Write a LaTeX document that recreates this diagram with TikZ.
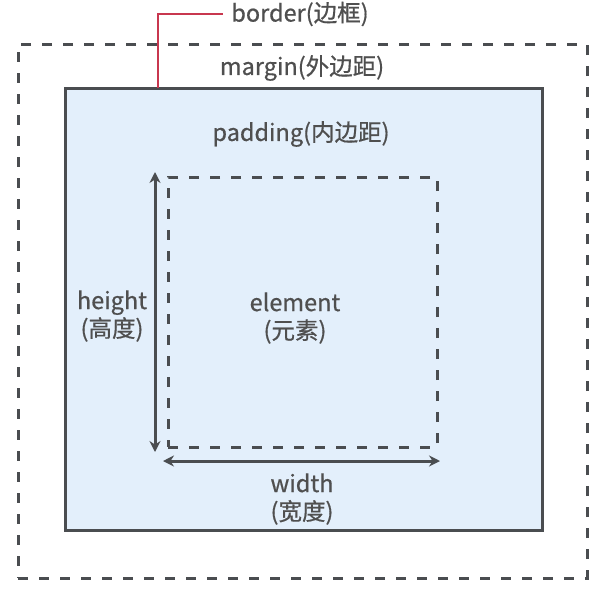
\documentclass[tikz,border=0pt]{standalone}
\usepackage{fontspec}
\setmainfont{Noto Sans CJK SC}[FakeBold=0.6]
\usetikzlibrary{arrows.meta,positioning}
\definecolor{boxfill}{HTML}{E3EFFB}
\definecolor{linegray}{HTML}{4A4D50}
\definecolor{textgray}{HTML}{4F4F4F}
\definecolor{borderred}{HTML}{C8374F}
\tikzset{
  dashbox/.style={draw=linegray, line width=3pt, dash pattern=on 10pt off 11pt, inner sep=0pt},
  txt/.style={text=textgray, font=\fontsize{23.5pt}{28pt}\selectfont, align=center, inner sep=0pt},
  dimarrow/.style={draw=linegray, line width=3pt, {Stealth[length=11pt,width=11pt]}-{Stealth[length=11pt,width=11pt]}}
}
\begin{document}
\begin{tikzpicture}[x=1pt,y=-1pt]
    \useasboundingbox (0,0) rectangle (599,589);
    % margin
    \node[dashbox, minimum width=569pt, minimum height=534pt] (margin) at (302.5,311) {};
    % border box
    \node[draw=linegray, fill=boxfill, line width=3pt, minimum width=477pt, minimum height=442pt, inner sep=0pt] (border) at (303.5,309) {};
    % element
    \node[dashbox, minimum width=269pt, minimum height=270pt] (element) at (302.5,312) {};
    % texts
    \node[txt] (bordertxt) at (300,14) {border(边框)};
    \node[txt] (margintxt) at (302,68) {margin(外边距)};
    \node[txt] (paddingtxt) at (301,134) {padding(内边距)};
    \node[txt] (elementtxt) at (295,318) {element\\(元素)};
    \node[txt] (heighttxt) at (112,316) {height\\(高度)};
    \node[txt] (widthtxt) at (302,499) {width\\(宽度)};
    % dimensions
    \coordinate (htop) at (155,172);
    \coordinate (hbot) at (155,452);
    \coordinate (wleft) at (163,461);
    \coordinate (wright) at (440,461);
    \draw[dimarrow] (htop) -- (hbot);
    \draw[dimarrow] (wleft) -- (wright);
    % pointer to border
    \coordinate (bordertop) at (158,88);
    \draw[borderred, line width=2.6pt] (bordertop) |- ([xshift=-8pt]bordertxt.west);
\end{tikzpicture}
\end{document}
